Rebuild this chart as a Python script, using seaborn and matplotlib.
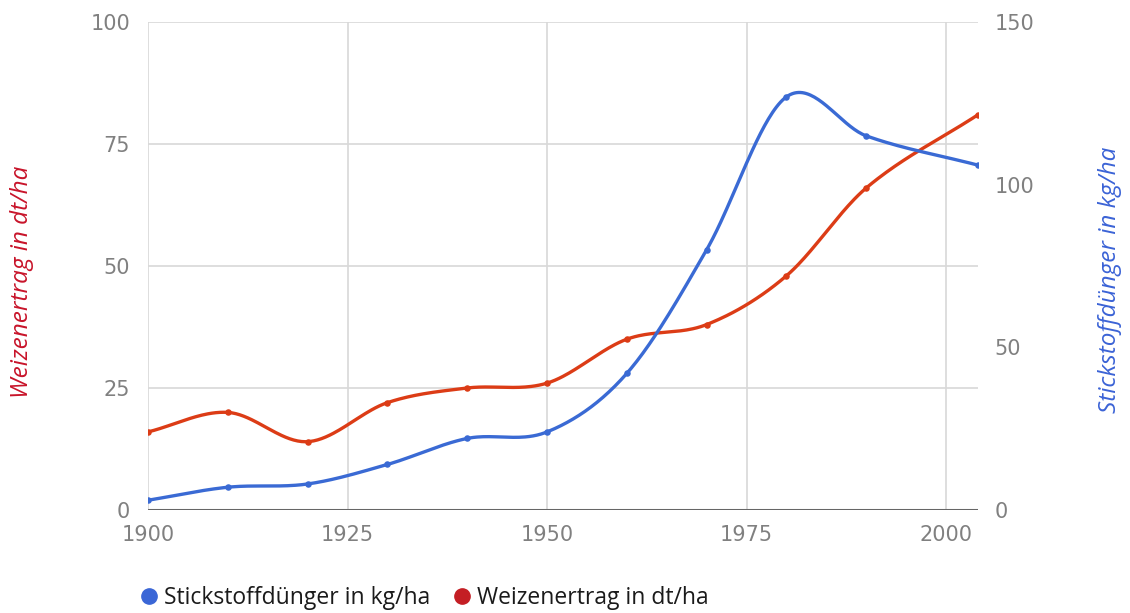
import numpy as np
import pandas as pd
import matplotlib
matplotlib.use("Agg")
import matplotlib.pyplot as plt
from matplotlib.lines import Line2D
import seaborn as sns

# Jahre der Messpunkte
years = [1900, 1910, 1920, 1930, 1940, 1950, 1960, 1970, 1980, 1990, 2004]
# Weizenertrag in dt/ha (linke Achse)
weizen = [16, 20, 14, 22, 25, 26, 35, 38, 48, 66, 81]
# Stickstoffdünger in kg/ha (rechte Achse)
stickstoff = [3, 7, 8, 14, 22, 24, 42, 80, 127, 115, 106]

left_ticks = [0, 25, 50, 75, 100]
right_ticks = [0, 50, 100, 150]
x_ticks = [1900, 1925, 1950, 1975, 2000]

RED_LINE = "#dc3c16"
BLUE_LINE = "#3a6ad4"
RED_TEXT = "#c8142a"
BLUE_TEXT = "#3b63d6"
GRID = "#d8d8d8"
TICK = "#808080"


def smooth(xs, ys, n=40):
    """Cubic Hermite curve through the points (Catmull-Rom tangents)."""
    xs = np.asarray(xs, float)
    ys = np.asarray(ys, float)
    m = np.empty_like(ys)
    m[0] = (ys[1] - ys[0]) / (xs[1] - xs[0])
    m[-1] = (ys[-1] - ys[-2]) / (xs[-1] - xs[-2])
    m[1:-1] = (ys[2:] - ys[:-2]) / (xs[2:] - xs[:-2])
    out_x, out_y = [], []
    for i in range(len(xs) - 1):
        h = xs[i + 1] - xs[i]
        t = np.linspace(0, 1, n, endpoint=(i == len(xs) - 2))
        h00 = 2 * t**3 - 3 * t**2 + 1
        h10 = t**3 - 2 * t**2 + t
        h01 = -2 * t**3 + 3 * t**2
        h11 = t**3 - t**2
        out_x.append(xs[i] + t * h)
        out_y.append(h00 * ys[i] + h10 * h * m[i] + h01 * ys[i + 1] + h11 * h * m[i + 1])
    return np.concatenate(out_x), np.concatenate(out_y)


sns.set_theme(style="white")
plt.rcParams["font.family"] = ["Open Sans", "DejaVu Sans"]

fig = plt.figure(figsize=(11.3, 6.13), dpi=100)
ax = fig.add_axes([148 / 1130, 1 - 510 / 613, (978 - 148) / 1130, (510 - 22) / 613])
ax2 = ax.twinx()
ax2.patch.set_visible(False)

# Weizenertrag (links)
wx, wy = smooth(years, weizen)
sns.lineplot(x=wx, y=wy, ax=ax, color=RED_LINE, linewidth=2.4, sort=False, zorder=4)
sns.scatterplot(x=years, y=weizen, ax=ax, color=RED_LINE, s=22, linewidth=0, zorder=5)

# Stickstoffdünger (rechts)
sx, sy = smooth(years, stickstoff)
sns.lineplot(x=sx, y=sy, ax=ax2, color=BLUE_LINE, linewidth=2.4, sort=False, zorder=4)
sns.scatterplot(x=years, y=stickstoff, ax=ax2, color=BLUE_LINE, s=22, linewidth=0, zorder=5)

ax.set_xlim(1900, 2004)
ax.set_ylim(0, 100)
ax2.set_ylim(0, 150)

ax.set_xticks(x_ticks)
ax.set_yticks(left_ticks)
ax2.set_yticks(right_ticks)

ax.grid(True, color=GRID, linewidth=1.2)
ax2.grid(False)
ax.set_axisbelow(True)
for a in (ax, ax2):
    for s in a.spines.values():
        s.set_visible(False)
ax.axhline(0, color="#666666", linewidth=2.2, zorder=3)

ax.tick_params(axis="x", length=0, pad=11)
ax.tick_params(axis="y", length=0, pad=13)
ax2.tick_params(axis="y", length=0, pad=12)
for lab in ax.get_xticklabels() + ax.get_yticklabels() + ax2.get_yticklabels():
    lab.set_fontfamily("DejaVu Sans")
    lab.set_fontsize(15)
    lab.set_color(TICK)

ax.set_xlabel("")
ax.set_ylabel("")
ax2.set_ylabel("")
fig.text(22 / 1130, 1 - 282 / 613, "Weizenertrag in dt/ha", rotation=90,
         ha="center", va="center", color=RED_TEXT, fontsize=17.5, style="italic")
fig.text(1110 / 1130, 1 - 280 / 613, "Stickstoffdünger in kg/ha", rotation=90,
         ha="center", va="center", color=BLUE_TEXT, fontsize=17.5, style="italic")

handles = [
    Line2D([], [], marker="o", linestyle="", markersize=11, color="#3a66d6"),
    Line2D([], [], marker="o", linestyle="", markersize=11, color="#c41e24"),
]
fig.legend(handles, ["Stickstoffdünger in kg/ha", "Weizenertrag in dt/ha"],
           loc="center left", bbox_to_anchor=(126 / 1130, 1 - 598 / 613), ncol=2,
           frameon=False, fontsize=16.5, handletextpad=0.15, columnspacing=0.9,
           labelcolor="#1a1a1a", borderpad=0, handlelength=1.0)

fig.savefig("out.png", dpi=100, facecolor="white")
